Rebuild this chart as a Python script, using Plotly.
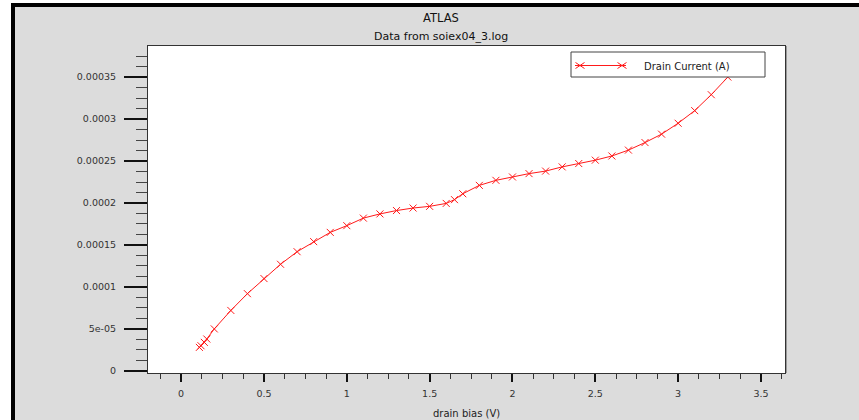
import plotly.graph_objects as go

# ---- data ----
drain_bias = [0.11, 0.12, 0.14, 0.155, 0.2, 0.3, 0.4, 0.5, 0.6, 0.7, 0.8, 0.9, 1.0,
              1.1, 1.2, 1.3, 1.4, 1.5, 1.6, 1.65, 1.7, 1.8, 1.9, 2.0, 2.1, 2.2,
              2.3, 2.4, 2.5, 2.6, 2.7, 2.8, 2.9, 3.0, 3.1, 3.2, 3.3]
drain_current = [2.8e-5, 3.0e-5, 3.4e-5, 3.8e-5, 5.0e-5, 7.2e-5, 9.2e-5, 1.10e-4, 1.27e-4,
                 1.42e-4, 1.54e-4, 1.65e-4, 1.73e-4, 1.82e-4, 1.87e-4, 1.91e-4, 1.94e-4,
                 1.96e-4, 1.995e-4, 2.04e-4, 2.11e-4, 2.21e-4, 2.27e-4, 2.31e-4, 2.35e-4,
                 2.38e-4, 2.43e-4, 2.47e-4, 2.51e-4, 2.56e-4, 2.63e-4, 2.72e-4, 2.82e-4,
                 2.95e-4, 3.10e-4, 3.29e-4, 3.50e-4]
x_tickvals = [0, 0.5, 1, 1.5, 2, 2.5, 3, 3.5]
x_ticktext = ["0", "0.5", "1", "1.5", "2", "2.5", "3", "3.5"]
y_tickvals = [0, 5e-5, 1e-4, 1.5e-4, 2e-4, 2.5e-4, 3e-4, 3.5e-4]
y_ticktext = ["0", "5e-05", "0.0001", "0.00015", "0.0002", "0.00025", "0.0003", "0.00035"]
series_name = "Drain Current (A)"
title_main = "ATLAS"
title_sub = "Data from soiex04_3.log"
x_title = "drain bias (V)"

W, H = 859, 420
L, R, T, B = 148, 785, 46, 373
RED = "#ff1a1a"
FONT = "DejaVu Sans"


def px(xp):
    return (xp - L) / (R - L)


def py(yp):
    return (B - yp) / (B - T)


fig = go.Figure()
fig.add_trace(go.Scatter(
    x=drain_bias, y=drain_current, mode="lines+markers", name=series_name,
    line=dict(color=RED, width=1),
    marker=dict(symbol="x-thin", size=7, line=dict(color=RED, width=1)),
    showlegend=False,
))

shapes = []
# white strips outside the frame
shapes.append(dict(type="rect", xref="paper", yref="paper", x0=px(0), x1=px(11), y0=py(0), y1=py(H),
                   fillcolor="white", line=dict(width=0), layer="below"))
shapes.append(dict(type="rect", xref="paper", yref="paper", x0=px(0), x1=px(W), y0=py(0), y1=py(3),
                   fillcolor="white", line=dict(width=0), layer="below"))
# black frame
shapes.append(dict(type="rect", xref="paper", yref="paper", x0=px(11), x1=px(15), y0=py(3), y1=py(H),
                   fillcolor="black", line=dict(width=0), layer="below"))
shapes.append(dict(type="rect", xref="paper", yref="paper", x0=px(11), x1=px(W), y0=py(3), y1=py(7),
                   fillcolor="black", line=dict(width=0), layer="below"))
# right edge shadow of plot area
shapes.append(dict(type="line", xref="paper", yref="paper", x0=px(786.5), x1=px(786.5), y0=py(T), y1=py(B),
                   line=dict(color="#999999", width=1)))
# legend box
shapes.append(dict(type="rect", xref="paper", yref="paper", x0=px(571), x1=px(765), y0=py(52), y1=py(77),
                   fillcolor="white", line=dict(color="#444444", width=1)))
# legend sample line
ly = 65.5
shapes.append(dict(type="line", xref="paper", yref="paper", x0=px(575), x1=px(626), y0=py(ly), y1=py(ly),
                   line=dict(color=RED, width=1)))
for cx in (580, 622):
    a, b = 4.5, 3
    path = (f"M {px(cx-a)},{py(ly-b)} L {px(cx+a)},{py(ly+b)} "
            f"M {px(cx-a)},{py(ly+b)} L {px(cx+a)},{py(ly-b)}")
    shapes.append(dict(type="path", xref="paper", yref="paper", path=path,
                       line=dict(color=RED, width=1)))

annotations = [
    dict(text=title_main, xref="paper", yref="paper", x=px(441), y=py(18), showarrow=False,
         xanchor="center", yanchor="middle", font=dict(family=FONT, size=11.5, color="#111111")),
    dict(text=title_sub, xref="paper", yref="paper", x=px(441), y=py(36), showarrow=False,
         xanchor="center", yanchor="middle", font=dict(family=FONT, size=11, color="#111111")),
    dict(text=x_title, xref="paper", yref="paper", x=px(466), y=py(413), showarrow=False,
         xanchor="center", yanchor="middle", font=dict(family=FONT, size=10, color="#222222")),
    dict(text=series_name, xref="paper", yref="paper", x=px(642), y=py(66.5), showarrow=False,
         xanchor="left", yanchor="middle", font=dict(family=FONT, size=10, color="#222222")),
]

fig.update_layout(
    width=W, height=H,
    margin=dict(l=L, r=W - R, t=T, b=H - B, pad=0),
    paper_bgcolor="#dcdcdc", plot_bgcolor="white",
    showlegend=False,
    shapes=shapes, annotations=annotations,
    xaxis=dict(
        range=[-0.2, 3.645], tickvals=x_tickvals, ticktext=x_ticktext,
        ticks="outside", ticklen=8, tickwidth=2, tickcolor="#111111",
        showline=True, mirror=True, linecolor="#333333", linewidth=1,
        showgrid=False, zeroline=False,
        tickfont=dict(family=FONT, size=9.5, color="#333333"),
        ticklabelstandoff=4,
        minor=dict(dtick=0.125, tick0=0, ticks="outside", ticklen=5, tickwidth=1,
                   tickcolor="#333333", showgrid=False),
    ),
    yaxis=dict(
        range=[-2.5e-6, 3.87e-4], tickvals=y_tickvals, ticktext=y_ticktext,
        ticks="outside", ticklen=23, tickwidth=2, tickcolor="#111111",
        showline=True, mirror=True, linecolor="#333333", linewidth=1,
        showgrid=False, zeroline=False,
        tickfont=dict(family=FONT, size=9.5, color="#333333"),
        ticklabelstandoff=6,
        minor=dict(dtick=1.25e-5, tick0=0, ticks="outside", ticklen=11, tickwidth=1,
                   tickcolor="#444444", showgrid=False),
    ),
)

fig.write_html("out.html", config={"displayModeBar": False},
               post_script="document.body.style.margin='0';document.body.style.overflow='hidden';")
